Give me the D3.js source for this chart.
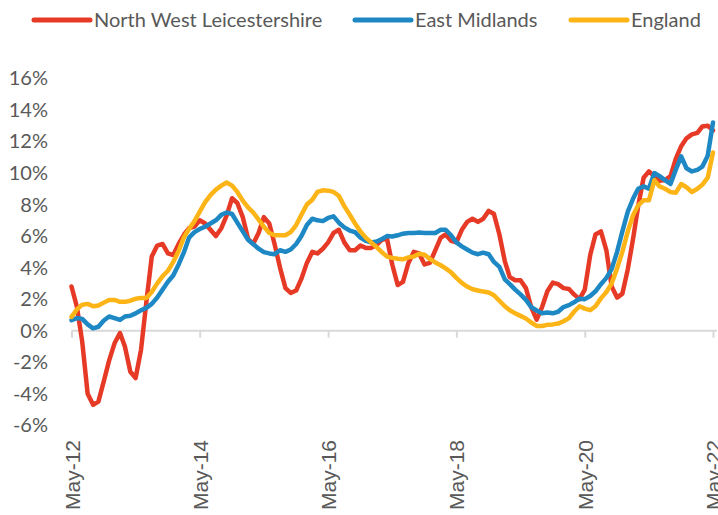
<!DOCTYPE html>
<html><head><meta charset="utf-8">
<script src="https://cdn.jsdelivr.net/npm/d3@7"></script>
<style>body{margin:0;background:#fff}svg{display:block}</style>
</head><body>
<svg id="chart" width="718" height="515"></svg>
<script>
// Monthly series, May 2012 .. May 2022 (percent)
const seriesNames = ["North West Leicestershire", "East Midlands", "England"];
const seriesColors = ["#E63A27", "#1E88C4", "#FCB416"];

const northWestLeicestershire = [
  2.8, 1.5, -0.7, -4.0, -4.7, -4.5, -3.2, -1.9, -0.8, -0.15, -1.0, -2.6,
  -3.0, -1.2, 1.8, 4.7, 5.4, 5.5, 4.9, 4.8, 5.5, 6.1, 6.5, 6.6,
  7.0, 6.8, 6.4, 6.0, 6.5, 7.3, 8.4, 8.1, 7.2, 5.8, 5.5, 6.2,
  7.2, 6.8, 5.5, 4.0, 2.7, 2.4, 2.55, 3.3, 4.3, 5.0, 4.9, 5.2,
  5.6, 6.2, 6.4, 5.6, 5.1, 5.1, 5.4, 5.25, 5.25, 5.45, 5.75, 5.85,
  4.2, 2.9, 3.1, 4.3, 5.0, 4.9, 4.2, 4.3, 5.1, 5.9, 6.1, 5.7,
  5.6, 6.4, 6.9, 7.1, 6.9, 7.1, 7.6, 7.4, 6.1, 4.4, 3.4, 3.2,
  3.2, 2.7, 1.5, 0.7, 1.5, 2.5, 3.05, 2.95, 2.7, 2.65, 2.3, 2.0,
  2.6, 4.8, 6.1, 6.3, 5.1, 2.8, 2.1, 2.35, 3.9, 5.9, 7.9, 9.7,
  10.1, 9.8, 9.5, 9.55, 9.8, 10.9, 11.7, 12.2, 12.45, 12.55, 12.95, 13.0,
  12.7
];
const eastMidlands = [
  0.67, 0.8, 0.75, 0.4, 0.15, 0.25, 0.65, 0.9, 0.8, 0.68, 0.9, 0.95,
  1.1, 1.3, 1.45, 1.7, 2.1, 2.6, 3.1, 3.5, 4.2, 5.0, 5.9, 6.25,
  6.45, 6.6, 6.8, 7.0, 7.35, 7.5, 7.4, 6.85, 6.3, 5.75, 5.5, 5.2,
  4.98, 4.9, 4.85, 5.1, 5.0, 5.15, 5.5, 6.0, 6.7, 7.1, 7.0, 6.95,
  7.15, 7.25, 6.85, 6.55, 6.35, 6.25, 5.9, 5.7, 5.6, 5.65, 5.8, 6.0,
  5.97, 6.05, 6.15, 6.2, 6.2, 6.22, 6.2, 6.2, 6.2, 6.4, 6.4, 6.05,
  5.6, 5.35, 5.15, 4.95, 4.85, 4.95, 4.85, 4.36, 4.05, 3.25, 2.95, 2.6,
  2.3, 1.95, 1.5, 1.28, 1.1, 1.15, 1.1, 1.2, 1.5, 1.62, 1.8, 2.03,
  2.0, 2.2, 2.5, 2.95, 3.35, 3.9, 5.0, 6.3, 7.55, 8.4, 9.0, 9.15,
  9.0, 10.0, 9.8, 9.55, 9.3, 10.2, 11.05, 10.3, 10.1, 10.2, 10.4, 11.1,
  13.2
];
const england = [
  0.88, 1.35, 1.65, 1.7, 1.55, 1.6, 1.78, 1.95, 1.95, 1.83, 1.83, 1.9,
  2.02, 2.08, 2.08, 2.46, 3.0, 3.45, 3.8, 4.35, 5.05, 5.95, 6.45, 6.95,
  7.55, 8.15, 8.6, 8.95, 9.2, 9.4, 9.2, 8.8, 8.25, 7.8, 7.5, 7.05,
  6.6, 6.2, 6.05, 6.05, 6.05, 6.25, 6.7, 7.35, 8.0, 8.3, 8.8, 8.9,
  8.88, 8.8, 8.55, 7.9, 7.35, 6.8, 6.3, 5.9, 5.6, 5.3, 5.0, 4.7,
  4.62, 4.56, 4.53, 4.65, 4.7, 4.88, 4.82, 4.55, 4.33, 4.15, 3.95, 3.7,
  3.35, 3.03, 2.8, 2.63, 2.55, 2.48, 2.42, 2.25, 1.9, 1.55, 1.3, 1.1,
  0.94, 0.77, 0.52, 0.3, 0.3, 0.37, 0.4, 0.45, 0.6, 0.8, 1.2, 1.55,
  1.4, 1.3, 1.55, 2.05, 2.45, 3.0, 3.95, 5.0, 6.3, 7.35, 7.95, 8.27,
  8.27, 9.54, 9.15, 9.0, 8.8, 8.75, 9.3, 9.1, 8.8, 9.0, 9.25, 9.7,
  11.3
];

const yTickValues = [-6, -4, -2, 0, 2, 4, 6, 8, 10, 12, 14, 16];
const xTickLabels = ["May-12", "May-14", "May-16", "May-18", "May-20", "May-22"];

// ---- build ----
const svg = d3.select("#chart");
const months = d3.timeMonth.range(new Date(2012, 4, 1), new Date(2022, 5, 1));
const allSeries = [northWestLeicestershire, eastMidlands, england];

const x = d3.scaleTime()
  .domain([months[0], months[months.length - 1]])
  .range([71.5, 713]);
const y = d3.scaleLinear().domain([-6, 16]).range([425.3, 78.4]);

const textColor = "#595959";
const uiFont = "Lato, 'Open Sans', sans-serif";

// y labels
svg.append("g").selectAll("text").data(yTickValues).join("text")
  .attr("x", 48).attr("y", d => y(d)).attr("dy", "0.35em")
  .attr("text-anchor", "end")
  .style("font-family", uiFont).style("font-size", "20px")
  .attr("fill", textColor)
  .text(d => d + "%");

// x axis
const tickDates = xTickLabels.map((_, i) => d3.timeMonth.offset(months[0], i * 24));
const xAxis = d3.axisBottom(x)
  .tickValues(tickDates)
  .tickSize(7)
  .tickSizeOuter(0)
  .tickFormat((d, i) => xTickLabels[i]);
const gx = svg.append("g").attr("transform", `translate(0,${y(0)})`).call(xAxis);
gx.select(".domain").attr("stroke", "#d9d9d9").attr("stroke-width", 2)
  .attr("d", `M${x(months[0])},0H717`);
gx.selectAll(".tick line").attr("stroke", "#d9d9d9").attr("stroke-width", 2);
// labels sit below the plot area (low position)
const labelTop = 440;
gx.selectAll(".tick text")
  .attr("transform", "rotate(-90)")
  .attr("x", -(labelTop - y(0))).attr("y", 0).attr("dy", "0.36em")
  .attr("text-anchor", "end")
  .style("font-family", "'Liberation Sans', Arial, sans-serif")
  .style("font-size", "21px")
  .attr("fill", textColor);

// lines
const line = d3.line()
  .x((d, i) => x(months[i]))
  .y(d => y(d))
  .curve(d3.curveLinear);
svg.append("g").selectAll("path").data(allSeries).join("path")
  .attr("d", d => line(d))
  .attr("fill", "none")
  .attr("stroke", (d, i) => seriesColors[i])
  .attr("stroke-width", 4.5)
  .attr("stroke-linejoin", "round")
  .attr("stroke-linecap", "round");

// legend
const legendX = [34, 355, 571];
const lg = svg.append("g").selectAll("g").data(seriesNames).join("g")
  .attr("transform", (d, i) => `translate(${legendX[i]},20)`);
lg.append("line").attr("x1", 0).attr("x2", 56).attr("y1", 0).attr("y2", 0)
  .attr("stroke", (d, i) => seriesColors[i]).attr("stroke-width", 5)
  .attr("stroke-linecap", "round");
lg.append("text").attr("x", 60).attr("y", 0).attr("dy", "0.35em")
  .style("font-family", uiFont).style("font-size", "20px")
  .attr("fill", textColor)
  .text(d => d);
</script>
</body></html>
